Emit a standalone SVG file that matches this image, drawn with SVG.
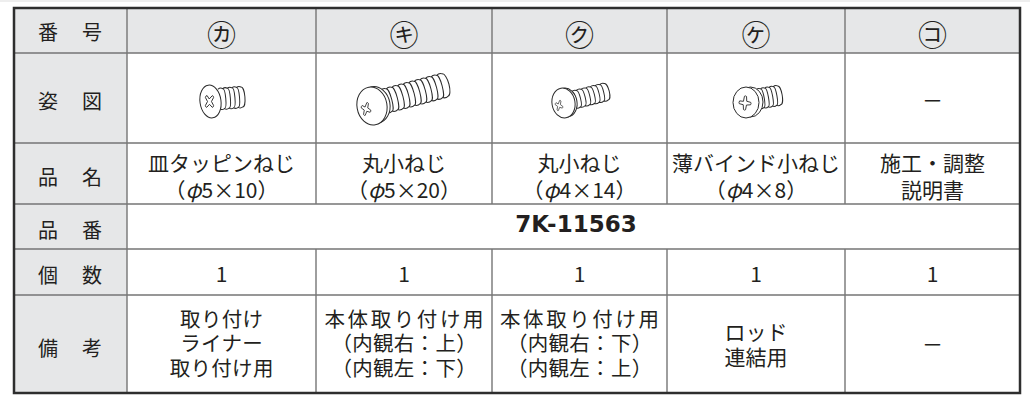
<svg xmlns="http://www.w3.org/2000/svg" width="1030" height="395" viewBox="0 0 1030 395">
<style>
.t{font-family:"Noto Sans CJK JP","Noto Sans",sans-serif;font-size:21px;fill:#231f20;text-anchor:middle}
.lb{font-size:20px;letter-spacing:2px}
.hd{font-size:29px}
.rm{font-size:20.5px;letter-spacing:0.3px}
.ws{letter-spacing:2.6px}
.pn{font-family:"DejaVu Sans",sans-serif;font-weight:bold;font-size:23px}
.grid{stroke:#767676;stroke-width:1.4;fill:none}
.sc{fill:none;stroke:#2a2a2a;stroke-width:1;stroke-linejoin:round;stroke-linecap:round}
.hw{fill:#fff;stroke:#2a2a2a;stroke-width:1}
.gray{fill:#e6e7e8}
</style>
<defs>
<path id="cross" class="sc" d="M-2,-2 L-1.3,-7 Q0,-8 1.3,-7 L2,-2 L7,-1.3 Q8,0 7,1.3 L2,2 L1.3,7 Q0,8 -1.3,7 L-2,2 L-7,1.3 Q-8,0 -7,-1.3 Z"/>
</defs>
<rect x="0" y="0" width="1030" height="395" fill="#fff"/>
<rect x="0" y="0" width="1030" height="2" fill="#eeeeee"/>
<g id="table">
<rect class="gray" x="14" y="8" width="1006" height="45"/>
<rect class="gray" x="14" y="53" width="113" height="340"/>
<path class="grid" d="M14,53 H1020 M14,143 H1020 M14,204 H1020 M14,249 H1020 M14,295 H1020 M127,8 V393 M316,8 V204 M316,249 V393 M492,8 V204 M492,249 V393 M667,8 V204 M667,249 V393 M845,8 V204 M845,249 V393"/>
<rect x="14" y="8" width="1006" height="385" fill="none" stroke="#2e2e2e" stroke-width="2.5"/>
</g>
<g id="labels">
<text class="t lb" x="71" y="39.6">番　号</text>
<text class="t lb" x="71" y="108.6">姿　図</text>
<text class="t lb" x="71" y="184.5">品　名</text>
<text class="t lb" x="71" y="237.6">品　番</text>
<text class="t lb" x="71" y="283">個　数</text>
<text class="t lb" x="71" y="356">備　考</text>
</g>
<g id="col-ka">
<text class="t hd" x="221.5" y="45.5">㋕</text>
<text class="t" x="221.5" y="170.5"><tspan x="221.5">皿タッピンねじ</tspan><tspan x="221.5" dy="27.5">（<tspan font-style="italic">φ</tspan>5×10）</tspan></text>
<text class="t" x="221.5" y="282">1</text>
<text class="t rm" x="221.7" y="326.5"><tspan x="221.7">取り付け</tspan><tspan x="221.7" dy="24.6">ライナー</tspan><tspan x="221.7" dy="24.6">取り付け用</tspan></text>
</g>
<g id="col-ki">
<text class="t hd" x="404" y="45.5">㋖</text>
<text class="t" x="404" y="170.5"><tspan x="404">丸小ねじ</tspan><tspan x="404" dy="27.5">（<tspan font-style="italic">φ</tspan>5×20）</tspan></text>
<text class="t" x="404" y="282">1</text>
<text class="t rm" x="404.2" y="326.5"><tspan x="405.3" class="ws">本体取り付け用</tspan><tspan x="404.2" dy="24.6">（内観右：上）</tspan><tspan x="404.2" dy="24.6">（内観左：下）</tspan></text>
</g>
<g id="col-ku">
<text class="t hd" x="579.5" y="45.5">㋗</text>
<text class="t" x="579.5" y="170.5"><tspan x="579.5">丸小ねじ</tspan><tspan x="579.5" dy="27.5">（<tspan font-style="italic">φ</tspan>4×14）</tspan></text>
<text class="t" x="579.5" y="282">1</text>
<text class="t rm" x="579.7" y="326.5"><tspan x="580.8" class="ws">本体取り付け用</tspan><tspan x="579.7" dy="24.6">（内観右：下）</tspan><tspan x="579.7" dy="24.6">（内観左：上）</tspan></text>
</g>
<g id="col-ke">
<text class="t hd" x="756" y="45.5">㋘</text>
<text class="t" x="756" y="170.5"><tspan x="756">薄バインド小ねじ</tspan><tspan x="756" dy="27.5">（<tspan font-style="italic">φ</tspan>4×8）</tspan></text>
<text class="t" x="756" y="282">1</text>
<text class="t" x="756" y="340"><tspan x="756">ロッド</tspan><tspan x="756" dy="25">連結用</tspan></text>
</g>
<g id="col-ko">
<text class="t hd" x="932.5" y="45.5">㋙</text>
<text class="t" x="932.5" y="108">－</text>
<text class="t" x="932.5" y="170.5"><tspan x="932.5">施工・調整</tspan><tspan x="932.5" dy="27.5">説明書</tspan></text>
<text class="t" x="932.5" y="282">1</text>
<text class="t" x="932.5" y="352">－</text>
</g>
<g id="part-number">
<text class="t pn" x="576" y="232">7K-11563</text>
</g>
<g id="screw-ka">
<g transform="translate(219,99) rotate(-5)">
<path class="sc" d="M0,-10 q2.3,-1.6 4.6,0 q2.3,-1.6 4.6,0 q2.3,-1.6 4.6,0 q2.3,-1.6 4.6,0 q2.3,-1.6 4.6,0 M0,10 q2.3,1.6 4.6,0 q2.3,1.6 4.6,0 q2.3,1.6 4.6,0 q2.3,1.6 4.6,0 q2.3,1.6 4.6,0 M4.6,-10 a2.2,10 0 0 1 0,20 m4.6,-20 a2.2,10 0 0 1 0,20 m4.6,-20 a2.2,10 0 0 1 0,20 m4.6,-20 a2.2,10 0 0 1 0,20 M23,-10 a3,10 0 0 1 0,20"/>
</g>
<ellipse class="hw" cx="210.5" cy="101.5" rx="10.5" ry="16.5" transform="rotate(-8 210.5 101.5)"/>
<use href="#cross" transform="translate(209.5,101.5) scale(0.7,1) rotate(45)"/>
</g>
<g id="screw-ki">
<g transform="translate(378,103) rotate(-15)">
<path class="sc" d="M0,-11.5 q2.9,-1.8 5.8,0 q2.9,-1.8 5.8,0 q2.9,-1.8 5.8,0 q2.9,-1.8 5.8,0 q2.9,-1.8 5.8,0 q2.9,-1.8 5.8,0 q2.9,-1.8 5.8,0 q2.9,-1.8 5.8,0 q2.9,-1.8 5.8,0 q2.9,-1.8 5.8,0 q2.9,-1.8 5.8,0 q2.9,-1.8 5.8,0 M0,11.5 q2.9,1.8 5.8,0 q2.9,1.8 5.8,0 q2.9,1.8 5.8,0 q2.9,1.8 5.8,0 q2.9,1.8 5.8,0 q2.9,1.8 5.8,0 q2.9,1.8 5.8,0 q2.9,1.8 5.8,0 q2.9,1.8 5.8,0 q2.9,1.8 5.8,0 q2.9,1.8 5.8,0 q2.9,1.8 5.8,0 M5.8,-11.5 a2.6,11.5 0 0 1 0,23 m5.8,-23 a2.6,11.5 0 0 1 0,23 m5.8,-23 a2.6,11.5 0 0 1 0,23 m5.8,-23 a2.6,11.5 0 0 1 0,23 m5.8,-23 a2.6,11.5 0 0 1 0,23 m5.8,-23 a2.6,11.5 0 0 1 0,23 m5.8,-23 a2.6,11.5 0 0 1 0,23 m5.8,-23 a2.6,11.5 0 0 1 0,23 m5.8,-23 a2.6,11.5 0 0 1 0,23 m5.8,-23 a2.6,11.5 0 0 1 0,23 m5.8,-23 a2.6,11.5 0 0 1 0,23 M69.6,-11.5 a3.8,11.5 0 0 1 0,23"/>
</g>
<ellipse class="hw" cx="375" cy="105" rx="15" ry="18.5" transform="rotate(-10 375 105)"/>
<ellipse class="hw" cx="372" cy="106" rx="15" ry="19" transform="rotate(-10 372 106)"/>
<use href="#cross" transform="translate(366,109) scale(0.75,1) rotate(20) scale(0.9)"/>
</g>
<g id="screw-ku">
<g transform="translate(569,101) rotate(-14)">
<path class="sc" d="M0,-8.5 q2.4,-1.4 4.8,0 q2.4,-1.4 4.8,0 q2.4,-1.4 4.8,0 q2.4,-1.4 4.8,0 q2.4,-1.4 4.8,0 q2.4,-1.4 4.8,0 q2.4,-1.4 4.8,0 q2.4,-1.4 4.8,0 M0,8.5 q2.4,1.4 4.8,0 q2.4,1.4 4.8,0 q2.4,1.4 4.8,0 q2.4,1.4 4.8,0 q2.4,1.4 4.8,0 q2.4,1.4 4.8,0 q2.4,1.4 4.8,0 q2.4,1.4 4.8,0 M4.8,-8.5 a2.2,8.5 0 0 1 0,17 m4.8,-17 a2.2,8.5 0 0 1 0,17 m4.8,-17 a2.2,8.5 0 0 1 0,17 m4.8,-17 a2.2,8.5 0 0 1 0,17 m4.8,-17 a2.2,8.5 0 0 1 0,17 m4.8,-17 a2.2,8.5 0 0 1 0,17 m4.8,-17 a2.2,8.5 0 0 1 0,17 M38.4,-8.5 a3,8.5 0 0 1 0,17"/>
</g>
<ellipse class="hw" cx="566" cy="102.5" rx="11" ry="14.5" transform="rotate(-10 566 102.5)"/>
<ellipse class="hw" cx="563.5" cy="103" rx="11.5" ry="15" transform="rotate(-10 563.5 103)"/>
<use href="#cross" transform="translate(559,105.5) scale(0.75,1) rotate(20) scale(0.72)"/>
</g>
<g id="screw-ke">
<g transform="translate(758,99) rotate(-10)">
<path class="sc" d="M0,-9.5 q2.15,-1.5 4.3,0 q2.15,-1.5 4.3,0 q2.15,-1.5 4.3,0 q2.15,-1.5 4.3,0 q2.15,-1.5 4.3,0 M0,9.5 q2.15,1.5 4.3,0 q2.15,1.5 4.3,0 q2.15,1.5 4.3,0 q2.15,1.5 4.3,0 q2.15,1.5 4.3,0 M4.3,-9.5 a2,9.5 0 0 1 0,19 m4.3,-19 a2,9.5 0 0 1 0,19 m4.3,-19 a2,9.5 0 0 1 0,19 m4.3,-19 a2,9.5 0 0 1 0,19 M21.5,-9.5 a3,9.5 0 0 1 0,19"/>
</g>
<ellipse class="hw" cx="750.5" cy="102" rx="12.5" ry="15"/>
<ellipse class="hw" cx="746" cy="102.5" rx="13" ry="15.5"/>
<use href="#cross" transform="translate(745,103) scale(0.85,1) rotate(5) scale(0.95)"/>
</g>
</svg>
